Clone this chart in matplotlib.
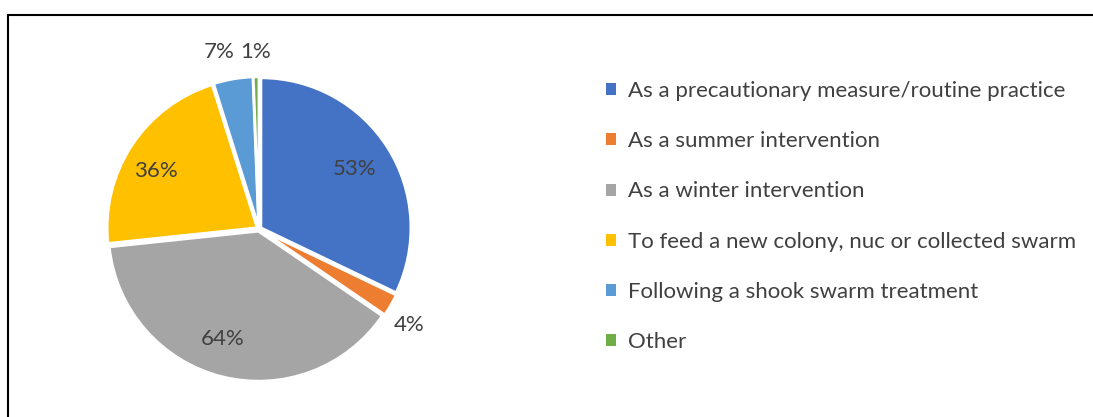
import matplotlib.pyplot as plt
from matplotlib.patches import Rectangle, Patch
import numpy as np

# data
categories = ['As a precautionary measure/routine practice',
              'As a summer intervention',
              'As a winter intervention',
              'To feed a new colony, nuc or collected swarm',
              'Following a shook swarm treatment',
              'Other']
values = [53, 4, 64, 36, 7, 1]
labels = ['53%', '4%', '64%', '36%', '7%', '1%']

colors = ['#4472C4', '#ED7D31', '#A5A5A5', '#FFC000', '#5B9BD5', '#70AD47']
txt_col = '#404040'
plt.rcParams['font.family'] = ['Lato', 'DejaVu Sans']

W, H = 1093, 417
fig = plt.figure(figsize=(W / 100, H / 100), dpi=100)

# frame around the chart (only top and left edges are visible)
fig.patches.append(Rectangle((8 / W, -0.05), 1.1, 1.05 - 15 / H,
                             transform=fig.transFigure, fill=False,
                             edgecolor='black', linewidth=1.5))

cx, cy, r = 259, 229, 150
ax = fig.add_axes([(cx - r) / W, (H - cy - r) / H, 2 * r / W, 2 * r / H])
wedges, _ = ax.pie(values, colors=colors, startangle=90, counterclock=False,
                   explode=[0.015] * 6, radius=1,
                   wedgeprops=dict(edgecolor='white', linewidth=2))
ax.set_xlim(-1, 1)
ax.set_ylim(-1, 1)
ax.set_aspect('equal')
ax.axis('off')

# label radial distances and angle shifts (per slice)
dist = [0.75, 1.19, 0.77, 0.79, 1.21, 1.18]
shift = [0, -2.6, -4, 4, 2.9, 0]
for w, lab, d, s in zip(wedges, labels, dist, shift):
    ang = np.deg2rad((w.theta1 + w.theta2) / 2 + s)
    x, y = d * np.cos(ang), d * np.sin(ang)
    ax.text(x, y, lab, ha='center', va='center', fontsize=16, color=txt_col)

handles = [Patch(facecolor=c, edgecolor='none') for c in colors]
fig.legend(handles, categories, loc='upper left',
           bbox_to_anchor=(586 / W, 1 - 61 / H), frameon=False,
           fontsize=16, labelcolor=txt_col, handlelength=0.45,
           handleheight=0.45, handletextpad=0.55, labelspacing=1.36)

fig.savefig('out.png', dpi=100)
